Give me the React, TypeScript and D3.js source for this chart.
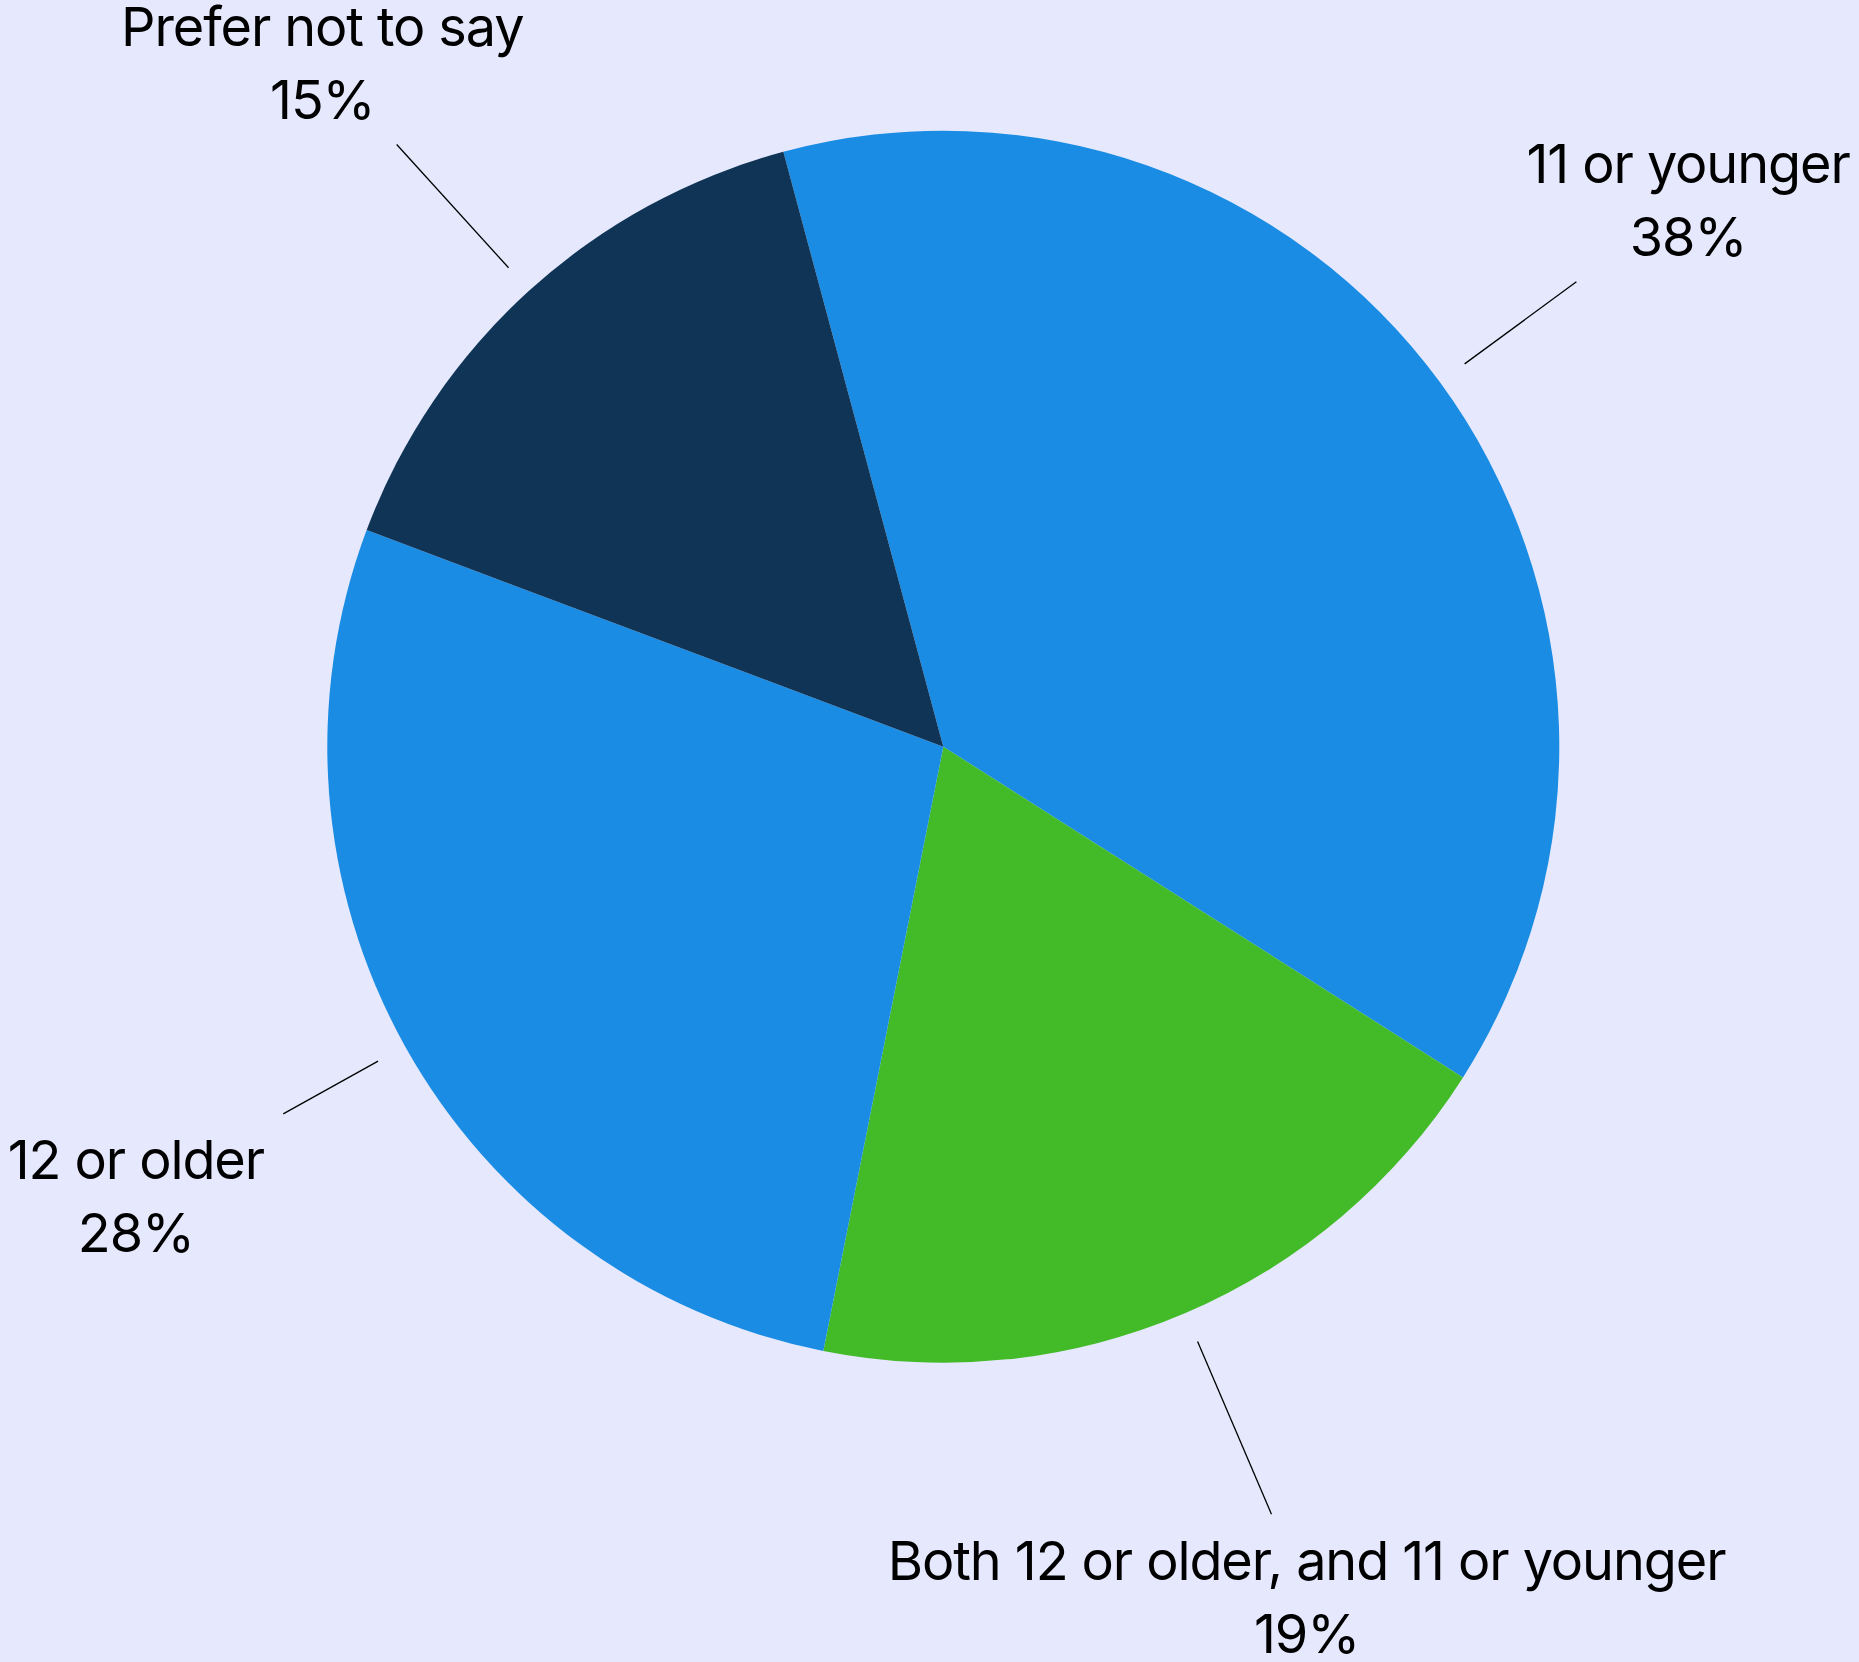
import React from "react";
import * as d3 from "d3";

const categories = ["11 or younger", "Both 12 or older, and 11 or younger", "12 or older", "Prefer not to say"];
const values = [38.2, 19.1, 27.6, 15.1];
const sliceColors = ["#1a8ce3", "#43ba28", "#1a8ce3", "#0f3455"];

const W = 1859;
const H = 1662;
const CX = 943.3;
const CY = 746.7;
const R = 616;
const START = (-15.05 * Math.PI) / 180;
const FONT = 54;

export default function App() {
  const pie = d3
    .pie<number>()
    .sort(null)
    .startAngle(START)
    .endAngle(START + 2 * Math.PI);
  const arcs = pie(values);
  const arc = d3.arc<d3.PieArcDatum<number>>().innerRadius(0).outerRadius(R);
  const total = d3.sum(values);

  return (
    <div style={{ position: "absolute", left: 0, top: 0, width: W, height: H }}>
      <svg width={W} height={H} style={{ display: "block" }}>
        <rect x={0} y={0} width={W} height={H} fill="#e6e9fd" />
        <g transform={`translate(${CX},${CY})`}>
          {arcs.map((a, i) => (
            <path key={i} d={arc(a) || ""} fill={sliceColors[i]} />
          ))}
          {arcs.map((a, i) => {
            const mid = (a.startAngle + a.endAngle) / 2;
            const sx = Math.sin(mid);
            const sy = -Math.cos(mid);
            const lr = R * 1.5;
            const lx = lr * sx;
            const ly = lr * sy;
            const r0 = R * 1.05;
            const back = 82 / Math.abs(sy);
            const r1 = lr - back;
            const pct = Math.round((a.value / total) * 100);
            return (
              <g key={"l" + i}>
                <line
                  x1={r0 * sx}
                  y1={r0 * sy}
                  x2={r1 * sx}
                  y2={r1 * sy}
                  stroke="#000"
                  strokeWidth={1.3}
                />
                <text
                  x={lx}
                  y={ly - 16.5}
                  textAnchor="middle"
                  fontFamily="Inter, 'Noto Sans', sans-serif"
                  fontSize={FONT}
                  letterSpacing={-1.1}
                  fill="#000"
                >
                  {categories[i]}
                </text>
                <text
                  x={lx}
                  y={ly + 56.5}
                  textAnchor="middle"
                  fontFamily="Inter, 'Noto Sans', sans-serif"
                  fontSize={FONT}
                  letterSpacing={-1.1}
                  fill="#000"
                >
                  {`${pct}%`}
                </text>
              </g>
            );
          })}
        </g>
      </svg>
    </div>
  );
}
